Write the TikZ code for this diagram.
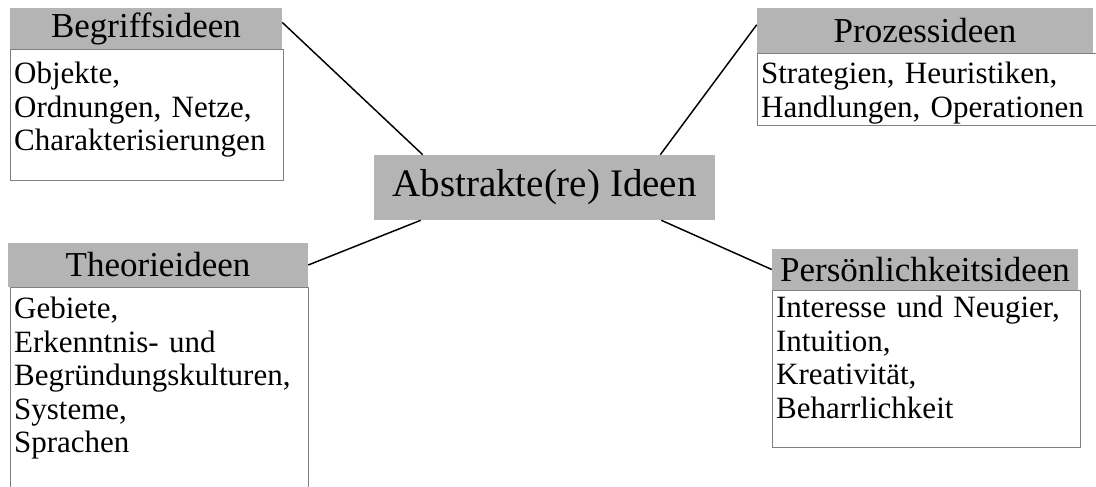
\documentclass[tikz,border=0pt]{standalone}
\usepackage{fontspec}
\setmainfont{Liberation Serif}
\usetikzlibrary{positioning}
\definecolor{ideengrau}{RGB}{180,180,180}
\definecolor{rahmengrau}{RGB}{128,128,128}
\tikzstyle{kopf}=[fill=ideengrau, inner sep=0pt, font=\fontsize{26.25pt}{30pt}\selectfont]
\tikzstyle{inhalt}=[draw=rahmengrau, line width=0.6pt, inner xsep=3pt, inner ysep=0pt, align=left, anchor=north west, font=\fontsize{23.25pt}{25.1pt}\selectfont]
\tikzstyle{verbindung}=[line width=1.1pt, black]
\newcommand{\kopf}{\node[kopf]}
\newcommand{\inhalt}{\node[inhalt]}

\begin{document}
\begin{tikzpicture}[x=0.75pt, y=-0.75pt]
                    \useasboundingbox (0,0) rectangle (1096,486);
                    \clip (0,0) rectangle (1096,486);
                    % Mitte
                    \node[kopf, minimum width=255.75pt, minimum height=48.75pt,
                        font=\fontsize{29.25pt}{33pt}\selectfont] (abs) at (544.5,187.5) {Abstrakte(re) Ideen};
                    % Kopfzeilen
                    \kopf[minimum width=204pt, minimum height=30.75pt] (begriff) at (146,28.5) {Begriffsideen};
                    \kopf[minimum width=252pt, minimum height=33.75pt] (prozess) at (925,30.5) {Prozessideen};
                    \kopf[minimum width=225pt, minimum height=33pt] (theorie) at (158,265) {Theorieideen};
                    \kopf[minimum width=229.5pt, minimum height=30.75pt] (person) at (925,269.5) {Persönlichkeitsideen};
                    % Inhalte
                    \inhalt[text width=198.75pt, text height=25.5pt, text depth=72.75pt] (begriffinhalt)
                        at (begriff.south west) {Objekte,\\Ordnungen, Netze,\\Charakterisierungen};
                    \inhalt[text width=258.75pt, text height=22.5pt, text depth=31.5pt] (prozessinhalt)
                        at (prozess.south west) {Strategien, Heuristiken,\\Handlungen, Operationen};
                    \inhalt[text width=217.5pt, text height=23.25pt, text depth=140pt] (theorieinhalt)
                        at ([xshift=1.5pt]theorie.south west) {Gebiete,\\Erkenntnis- und\\Begründungskulturen,\\Systeme,\\Sprachen};
                    \inhalt[text width=225pt, text height=20.25pt, text depth=97.5pt] (personinhalt)
                        at (person.south west) {Interesse und Neugier,\\Intuition,\\Kreativität,\\Beharrlichkeit};
                    \path[verbindung]
                        ([yshift=-11pt]begriff.north east) edge ([xshift=36.75pt]abs.north west)
                        ([yshift=-12.75pt]prozess.north west) edge ([xshift=-41.25pt]abs.north east)
                        (theorie.east) edge ([xshift=35.25pt]abs.south west)
                        (person.west) edge ([xshift=-40.5pt]abs.south east)
                    ;
                \end{tikzpicture}
\end{document}
